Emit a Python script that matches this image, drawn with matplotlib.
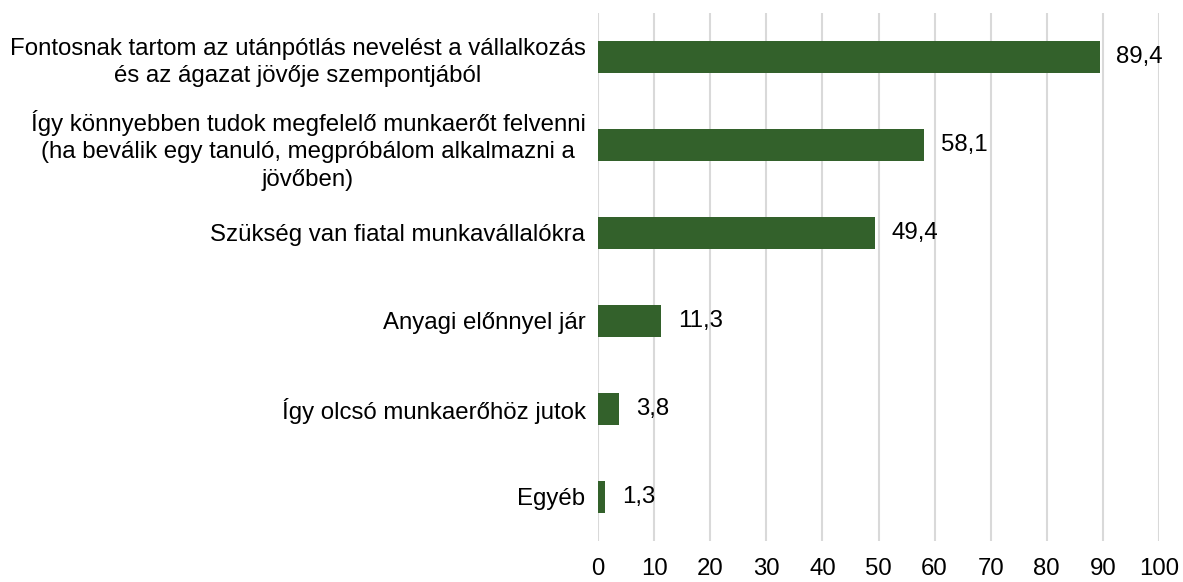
import matplotlib
matplotlib.use("Agg")
import matplotlib.pyplot as plt

categories = [
    "Fontosnak tartom az utánpótlás nevelést a vállalkozás\nés az ágazat jövője szempontjából",
    "Így könnyebben tudok megfelelő munkaerőt felvenni\n(ha beválik egy tanuló, megpróbálom alkalmazni a\njövőben)",
    "Szükség van fiatal munkavállalókra",
    "Anyagi előnnyel jár",
    "Így olcsó munkaerőhöz jutok",
    "Egyéb",
]
values = [89.4, 58.1, 49.4, 11.3, 3.8, 1.3]
xticks = [0, 10, 20, 30, 40, 50, 60, 70, 80, 90, 100]

plt.rcParams['font.family'] = ['Liberation Sans', 'DejaVu Sans']
FS = 17.3

fig = plt.figure(figsize=(11.83, 5.82), dpi=100)
ax = fig.add_axes([598/1183, 1-541/582, (1159-598)/1183, (541-13)/582])

pos = list(range(len(categories)))
bars = ax.barh(pos, values, height=0.36, color="#33612b", zorder=3)
ax.set_ylim(len(categories)-0.5, -0.5)
ax.set_xlim(0, 100)
ax.set_xticks(xticks)
ax.set_xticklabels([str(t) for t in xticks], fontsize=FS)
ax.set_yticks(pos)
ax.set_yticklabels(categories, fontsize=FS, multialignment='center', linespacing=1.32)
ax.tick_params(axis='both', length=0)
ax.tick_params(axis='x', pad=12)
ax.tick_params(axis='y', pad=9)
ax.xaxis.grid(True, color="#d9d9d9", linewidth=1.5, zorder=0)
for s in ax.spines.values():
    s.set_visible(False)
ax.bar_label(bars, labels=[f"{v:.1f}".replace('.', ',') for v in values],
             padding=12, fontsize=FS)

fig.savefig("out.png", dpi=100)
